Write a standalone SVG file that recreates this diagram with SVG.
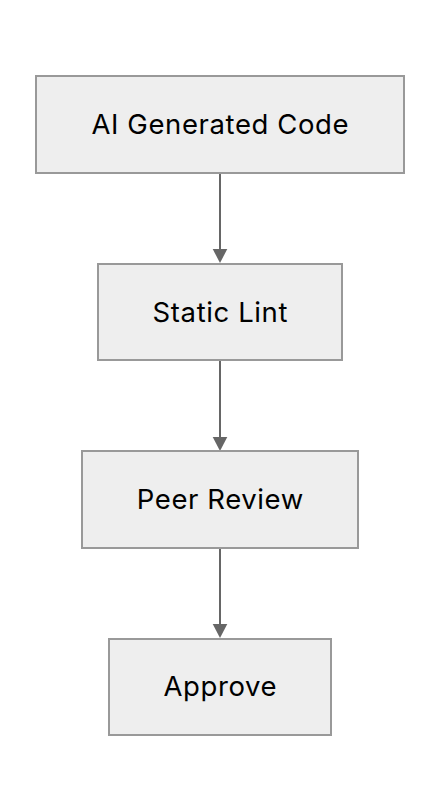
<svg xmlns="http://www.w3.org/2000/svg" width="440" height="812" viewBox="0 0 440 812">
<style>
.box{fill:#eeeeee;stroke:#999999;stroke-width:2}
.lbl{font-family:Inter,"Liberation Sans",sans-serif;font-size:27.5px;letter-spacing:0.6px;fill:#000;text-anchor:middle}
.edge{stroke:#666666;stroke-width:2;fill:none}
.head{fill:#666666}
</style>
<rect width="440" height="812" fill="#ffffff"/>
<g id="connectors">
<line class="edge" x1="220" y1="173" x2="220" y2="249"/>
<path class="head" d="M212.7,249 L227.3,249 L220,263 z"/>
<line class="edge" x1="220" y1="360" x2="220" y2="437"/>
<path class="head" d="M212.7,437 L227.3,437 L220,451 z"/>
<line class="edge" x1="220" y1="548" x2="220" y2="624"/>
<path class="head" d="M212.7,624 L227.3,624 L220,638 z"/>
</g>
<g id="node-ai">
<rect class="box" x="36" y="76" width="368" height="97"/>
<text class="lbl" x="220.3" y="134">AI Generated Code</text>
</g>
<g id="node-lint">
<rect class="box" x="98" y="264" width="244" height="96"/>
<text class="lbl" x="220.3" y="321.5">Static Lint</text>
</g>
<g id="node-review">
<rect class="box" x="82" y="451" width="276" height="97"/>
<text class="lbl" x="220.3" y="509">Peer Review</text>
</g>
<g id="node-approve">
<rect class="box" x="109" y="639" width="222" height="96"/>
<text class="lbl" x="220.3" y="696">Approve</text>
</g>
</svg>
